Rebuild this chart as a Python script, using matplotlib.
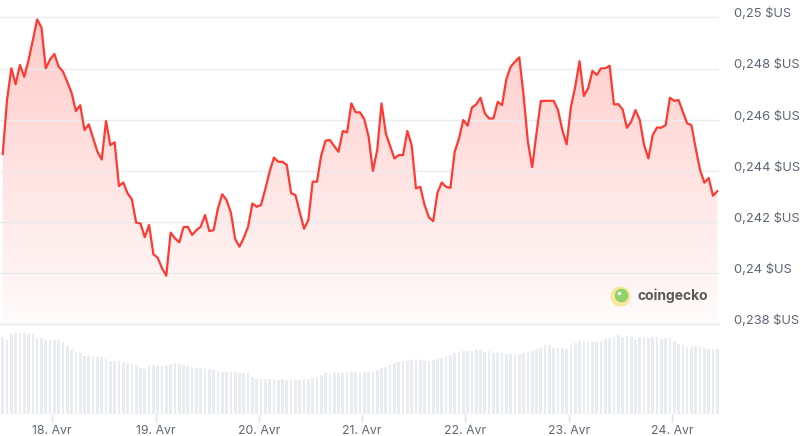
import numpy as np
import pandas as pd
import matplotlib
matplotlib.use('Agg')
import matplotlib.pyplot as plt
import matplotlib.dates as mdates
import matplotlib.transforms as mtransforms

# prix horaire (USD)
prices = [
    0.24466, 0.24677, 0.24801, 0.24739, 0.24814, 0.24768, 0.24833, 0.24911, 0.24992, 0.24961,
    0.24801, 0.24836, 0.24857, 0.24807, 0.24788, 0.24748, 0.24705, 0.24634, 0.24657, 0.24560,
    0.24582, 0.24529, 0.24475, 0.24445, 0.24595, 0.24501, 0.24512, 0.24341, 0.24355, 0.24313,
    0.24289, 0.24198, 0.24195, 0.24141, 0.24189, 0.24075, 0.24061, 0.24020, 0.23991, 0.24159,
    0.24137, 0.24121, 0.24180, 0.24182, 0.24150, 0.24169, 0.24182, 0.24228, 0.24165, 0.24169,
    0.24254, 0.24309, 0.24286, 0.24237, 0.24134, 0.24104, 0.24139, 0.24182, 0.24273, 0.24260,
    0.24267, 0.24329, 0.24397, 0.24452, 0.24436, 0.24436, 0.24423, 0.24313, 0.24306, 0.24239,
    0.24174, 0.24208, 0.24358, 0.24358, 0.24462, 0.24518, 0.24521, 0.24497, 0.24475, 0.24556,
    0.24551, 0.24664, 0.24629, 0.24629, 0.24602, 0.24534, 0.24400, 0.24482, 0.24664, 0.24547,
    0.24497, 0.24449, 0.24462, 0.24462, 0.24556, 0.24501, 0.24332, 0.24338, 0.24267, 0.24219,
    0.24204, 0.24315, 0.24355, 0.24338, 0.24334, 0.24475, 0.24527, 0.24599, 0.24577, 0.24648,
    0.24660, 0.24686, 0.24625, 0.24605, 0.24605, 0.24670, 0.24657, 0.24759, 0.24807, 0.24827,
    0.24844, 0.24696, 0.24514, 0.24415, 0.24547, 0.24673, 0.24674, 0.24674, 0.24674, 0.24638,
    0.24560, 0.24504, 0.24651, 0.24729, 0.24829, 0.24693, 0.24723, 0.24791, 0.24775, 0.24801,
    0.24801, 0.24811, 0.24660, 0.24661, 0.24641, 0.24569, 0.24592, 0.24638, 0.24599, 0.24501,
    0.24449, 0.24540, 0.24570, 0.24569, 0.24579, 0.24686, 0.24674, 0.24677, 0.24631, 0.24586,
    0.24579, 0.24488, 0.24404, 0.24354, 0.24373, 0.24303, 0.24321,
]

# volume (unites relatives)
volumes = [
    77, 75, 80, 81, 81, 81, 80, 80, 76, 76, 74, 74, 74, 74, 72, 68, 64, 62, 61, 58,
    58, 57, 57, 57, 55, 53, 53, 53, 52, 51, 50, 49, 46, 45, 48, 49, 48, 48, 48, 50,
    51, 50, 49, 48, 47, 46, 46, 45, 45, 44, 43, 42, 42, 42, 42, 41, 41, 41, 37, 35,
    35, 35, 35, 35, 34, 35, 34, 34, 34, 34, 35, 35, 36, 37, 39, 41, 40, 41, 41, 41,
    41, 42, 42, 41, 42, 42, 42, 44, 46, 47, 49, 51, 52,
    53, 53, 54, 55, 54, 53, 53, 54, 55, 56, 57, 59, 61, 62, 63, 63, 63, 64, 64, 62,
    63, 61, 61, 61, 60, 60, 59, 60, 61, 62, 63, 65, 66, 69, 69, 66, 66, 66, 65, 69,
    71, 73, 72, 72, 72, 72, 73, 75, 76, 77, 79, 77, 78, 77, 74, 77, 77, 76, 77, 77,
    75, 76, 76, 73, 70, 69, 67, 67, 68, 67, 66, 65, 65, 65,
]

times = pd.date_range('2024-04-17 12:30', periods=len(prices), freq='h')

day_ticks = pd.date_range('2024-04-18', '2024-04-24', freq='D')
day_labels = ['18. Avr', '19. Avr', '20. Avr', '21. Avr', '22. Avr', '23. Avr', '24. Avr']

price_ticks = [0.238, 0.24, 0.242, 0.244, 0.246, 0.248, 0.25]
price_labels = ['0,238 $US', '0,24 $US', '0,242 $US', '0,244 $US', '0,246 $US', '0,248 $US', '0,25 $US']

plt.rcParams['font.family'] = ['Inter', 'DejaVu Sans']

red = '#ff3a33'
grid_col = '#e9ebef'
text_col = '#5e6673'

fig = plt.figure(figsize=(8.01, 4.36), dpi=100)

x0 = mdates.date2num(times[0] - pd.Timedelta(minutes=38))
x1 = mdates.date2num(times[0] + pd.Timedelta(hours=166.4))
y_bot, y_top = 0.238, 0.25068

ax = fig.add_axes([0, 0.2557, 719 / 801, 0.7443])
ax.set_xlim(x0, x1)
ax.set_ylim(y_bot, y_top)

# degrade sous la courbe
poly = ax.fill_between(times, prices, y_bot, facecolor='none', edgecolor='none')
grad = np.zeros((256, 1, 4))
grad[:, 0, 0] = 1.0
grad[:, 0, 1] = 0.23
grad[:, 0, 2] = 0.2
grad[:, 0, 3] = np.linspace(0.28, 0.02, 256)
img = ax.imshow(grad, aspect='auto', extent=[x0, x1, y_bot, y_top], origin='upper', zorder=1)
img.set_clip_path(poly.get_paths()[0], transform=ax.transData)

ax.plot(times, prices, color=red, linewidth=1.6, zorder=3, solid_joinstyle='round')

ax.set_yticks(price_ticks)
ax.set_yticklabels(price_labels)
ax.yaxis.tick_right()
ax.tick_params(axis='y', length=0, pad=10.5, labelsize=9.3, labelcolor=text_col)
# libelles un peu au-dessus des lignes
shift = mtransforms.ScaledTranslation(0, 5 / 100, fig.dpi_scale_trans)
for lab in ax.get_yticklabels():
    lab.set_transform(lab.get_transform() + shift)
ax.grid(axis='y', color=grid_col, linewidth=1)
ax.set_xticks([])
for s in ax.spines.values():
    s.set_visible(False)

# logo coingecko
ax.scatter([0.862], [0.088], s=210, color='#f9e79a', transform=ax.transAxes, zorder=4, linewidths=0)
ax.scatter([0.864], [0.090], s=95, color='#8fd16a', transform=ax.transAxes, zorder=5, linewidths=0)
ax.scatter([0.861], [0.098], s=6, color='white', transform=ax.transAxes, zorder=6, linewidths=0)
ax.text(0.887, 0.088, 'coingecko', transform=ax.transAxes, fontsize=10, fontweight='bold',
        color='#5a5a5a', va='center', ha='left', zorder=5)

# volume
axv = fig.add_axes([0, 0.0498, 719 / 801, 0.206])
axv.set_xlim(x0, x1)
axv.set_ylim(0, 89.8)
axv.bar(times, volumes, width=0.62 / 24, color='#e9edf2', align='center')
axv.set_xticks(day_ticks)
axv.set_xticklabels(day_labels)
axv.tick_params(axis='x', length=6, width=1, color='#dfe3e8', labelsize=8.8,
                labelcolor=text_col, pad=2)
axv.set_yticks([])
for k in ['left', 'right', 'bottom']:
    axv.spines[k].set_visible(False)
axv.spines['top'].set_color(grid_col)
axv.spines['top'].set_linewidth(1)
axv.patch.set_alpha(0)

fig.savefig('out.png', dpi=100)
